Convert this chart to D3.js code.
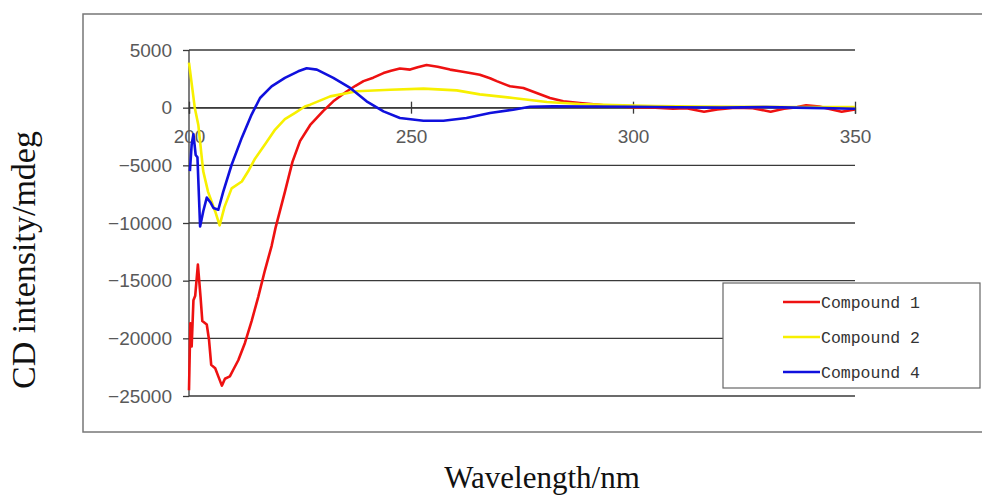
<!DOCTYPE html>
<html>
<head>
<meta charset="utf-8">
<script src="https://cdn.jsdelivr.net/npm/d3@7"></script>
<style>
  body { margin: 0; background: #fff; }
  svg { display: block; }
</style>
</head>
<body>
<svg id="mainsvg" width="982" height="496"></svg>
<script>
// CD spectra, values: [wavelength nm, CD mdeg]
const compound1 = [
  [200.0, -24500], [200.3, -18700], [200.6, -20700], [201.0, -16700], [201.4, -16300],
  [202.0, -13600], [202.6, -16400], [203.0, -18500], [204.0, -18800], [204.5, -20100],
  [205.0, -22300], [205.9, -22600], [206.6, -23300], [207.4, -24100], [208.1, -23500],
  [209.2, -23300], [210.0, -22700], [211.1, -21900], [212.6, -20400], [214.1, -18500],
  [215.6, -16400], [217.1, -14100], [218.6, -12000], [219.5, -10400], [221.6, -7300],
  [223.3, -4700], [225.0, -2900], [227.3, -1500], [230.2, -300], [232.5, 550],
  [235.5, 1400], [237.5, 1900], [239.3, 2300], [241.5, 2600], [243.8, 3000],
  [245.5, 3200], [247.5, 3400], [249.8, 3300], [251.5, 3500], [253.5, 3700],
  [256.0, 3550], [258.8, 3300], [261.0, 3150], [263.3, 3000], [265.5, 2850],
  [267.8, 2550], [269.3, 2300], [272.3, 1850], [275.3, 1700], [278.3, 1270],
  [281.3, 840], [284.3, 550], [288.0, 400], [291.8, 260], [295.5, 120],
  [300.0, 50], [305.0, 0], [309.0, -100], [312.0, -50], [316.0, -350],
  [319.0, -150], [323.0, 0], [327.0, -50], [331.0, -350], [334.0, -100],
  [337.0, 50], [339.0, 200], [342.0, 100], [344.0, -100], [347.0, -350], [350.0, -150]
];
const compound2 = [
  [200.0, 3900], [201.3, 0], [202.1, -1500], [203.2, -5500], [204.3, -7300],
  [205.9, -9000], [206.9, -10200], [208.0, -8600], [209.6, -7000], [211.9, -6400],
  [213.5, -5400], [214.9, -4400], [217.1, -3200], [219.4, -1900], [221.6, -1000],
  [223.9, -450], [226.1, 100], [227.3, 260], [231.8, 980], [237.8, 1420],
  [245.3, 1560], [252.8, 1650], [260.3, 1500], [265.5, 1150], [273.0, 840],
  [280.6, 490], [288.0, 320], [295.5, 230], [305.0, 150], [315.0, 100],
  [325.0, 80], [335.0, 60], [350.0, 50]
];
const compound4 = [
  [200.2, -5500], [200.6, -3200], [201.0, -2300], [201.5, -4100], [201.9, -4300],
  [202.5, -10300], [203.2, -9000], [204.0, -7800], [204.8, -8200], [205.5, -8700],
  [206.6, -8850], [207.7, -7300], [209.6, -4950], [211.9, -2600], [214.1, -600],
  [216.0, 840], [218.6, 1850], [221.6, 2580], [224.6, 3150], [226.5, 3420],
  [228.8, 3300], [232.5, 2580], [236.3, 1710], [240.0, 550], [243.8, -320],
  [247.5, -900], [252.8, -1130], [257.3, -1130], [262.5, -900], [267.8, -460],
  [273.0, -175], [276.8, 80], [282.0, 120], [290.0, 100], [300.0, 80],
  [310.0, 40], [320.0, 0], [330.0, 50], [340.0, -20], [350.0, -100]
];
const seriesNames = ['Compound 1', 'Compound 2', 'Compound 4'];
const seriesColors = ['#ee1111', '#f7f000', '#1010dd'];
const xTicks = [200, 250, 300, 350];
const yTicks = [5000, 0, -5000, -10000, -15000, -20000, -25000];

const svg = d3.select('#mainsvg');
const width = +svg.attr('width');
const height = +svg.attr('height');
const margin = { top: 50, right: 127, bottom: 100, left: 189 };
const innerWidth = width - margin.left - margin.right;
const innerHeight = height - margin.top - margin.bottom;

const xScale = d3.scaleLinear().domain([200, 350]).range([0, innerWidth]);
const yScale = d3.scaleLinear().domain([5000, -25000]).range([0, innerHeight]);
// plain numbers, no thousands separator
const numFormat = d => (d < 0 ? '\u2212' : '') + Math.abs(d);

// outer chart frame (runs off the right edge)
svg.append('rect')
  .attr('x', 83).attr('y', 14)
  .attr('width', 1000).attr('height', 418)
  .attr('fill', 'none')
  .attr('stroke', '#777')
  .attr('stroke-width', 1.5);

const g = svg.append('g')
  .attr('transform', `translate(${margin.left}, ${margin.top})`)
  .attr('id', 'maingroup');

// horizontal grid lines
g.selectAll('.grid').data(yTicks).enter().append('line')
  .attr('class', 'grid')
  .attr('x1', 0).attr('x2', innerWidth)
  .attr('y1', d => yScale(d)).attr('y2', d => yScale(d))
  .attr('stroke', '#3a3a3a')
  .attr('stroke-width', 1.3);

// y axis
const yAxis = d3.axisLeft(yScale).tickValues(yTicks).tickFormat(numFormat)
  .tickSize(6).tickPadding(11);
const yAxisGroup = g.append('g').call(yAxis);
yAxisGroup.select('.domain').remove();
yAxisGroup.selectAll('line').attr('stroke', '#3a3a3a').attr('stroke-width', 1.3);
yAxisGroup.selectAll('text')
  .attr('font-family', '"Liberation Sans", Arial, sans-serif')
  .attr('font-size', 19)
  .attr('fill', '#595959');
g.append('line')
  .attr('x1', 0).attr('x2', 0)
  .attr('y1', 0).attr('y2', innerHeight)
  .attr('stroke', '#3a3a3a').attr('stroke-width', 1.3);

// x axis sits on the zero line, ticks cross it
const xAxis = d3.axisBottom(xScale).tickValues(xTicks).tickFormat(numFormat)
  .tickSize(6).tickPadding(16);
const xAxisGroup = g.append('g')
  .attr('transform', `translate(0, ${yScale(0)})`)
  .call(xAxis);
xAxisGroup.select('.domain').attr('stroke', '#3a3a3a').attr('stroke-width', 1.3);
xAxisGroup.selectAll('line').attr('y1', -6).attr('y2', 6)
  .attr('stroke', '#3a3a3a').attr('stroke-width', 1.3);
xAxisGroup.selectAll('text')
  .attr('font-family', '"Liberation Sans", Arial, sans-serif')
  .attr('font-size', 19)
  .attr('fill', '#595959');

// spectra
const line = d3.line()
  .x(d => xScale(d[0]))
  .y(d => yScale(d[1]));
[compound1, compound2, compound4].forEach((s, i) => {
  g.append('path')
    .datum(s)
    .attr('d', line)
    .attr('fill', 'none')
    .attr('stroke', seriesColors[i])
    .attr('stroke-width', 2.6)
    .attr('stroke-linejoin', 'round');
});

// legend box
const legend = svg.append('g').attr('transform', 'translate(723, 283)');
legend.append('rect')
  .attr('width', 257).attr('height', 105)
  .attr('fill', '#fff')
  .attr('stroke', '#666')
  .attr('stroke-width', 1.2);
const rows = legend.selectAll('.row').data(seriesNames).enter().append('g')
  .attr('class', 'row')
  .attr('transform', (d, i) => `translate(0, ${19 + i * 35})`);
rows.append('line')
  .attr('x1', 60).attr('x2', 97)
  .attr('stroke', (d, i) => seriesColors[i])
  .attr('stroke-width', 2.6);
rows.append('text')
  .attr('x', 98)
  .attr('dy', '0.35em')
  .attr('font-family', '"Liberation Mono", "DejaVu Sans Mono", monospace')
  .attr('font-size', 16.5)
  .attr('fill', '#333')
  .text(d => d);

// axis titles
svg.append('text')
  .attr('transform', 'translate(35, 260) rotate(-90)')
  .attr('text-anchor', 'middle')
  .attr('font-family', '"Liberation Serif", "Times New Roman", serif')
  .attr('font-size', 34)
  .attr('fill', '#111')
  .text('CD intensity/mdeg');
svg.append('text')
  .attr('x', 542).attr('y', 488)
  .attr('text-anchor', 'middle')
  .attr('font-family', '"Liberation Serif", "Times New Roman", serif')
  .attr('font-size', 31)
  .attr('fill', '#111')
  .text('Wavelength/nm');
</script>
</body>
</html>
